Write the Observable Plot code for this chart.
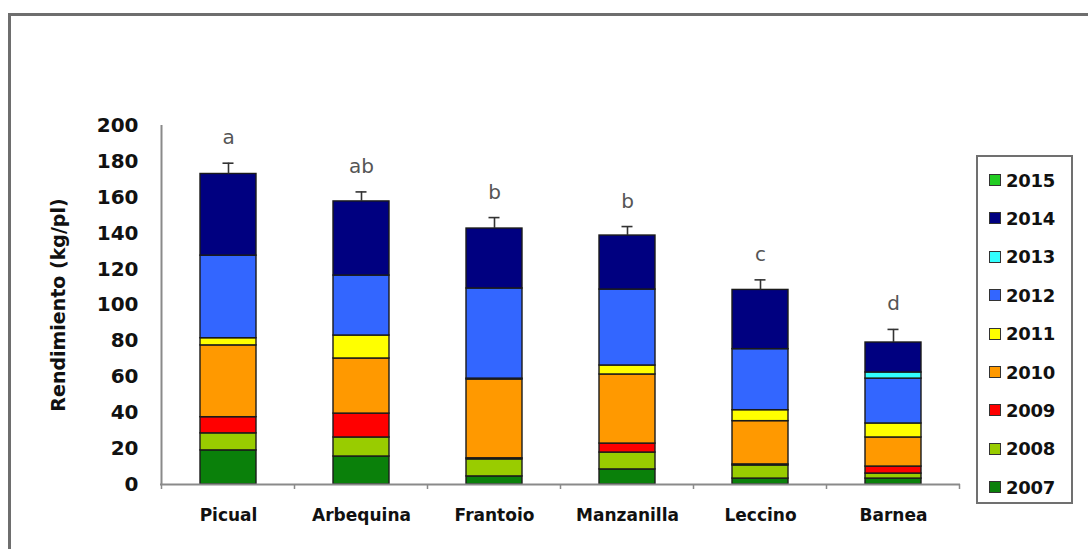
<!DOCTYPE html>
<html>
<head>
<meta charset="utf-8">
<script src="https://cdn.jsdelivr.net/npm/d3@7"></script>
<script src="https://cdn.jsdelivr.net/npm/@observablehq/plot@0.6"></script>
<style>
  html, body { margin: 0; padding: 0; background: #fff; }
  #wrap { position: relative; width: 1088px; height: 549px; overflow: hidden; background: #fff; }
  #frame { position: absolute; left: 8px; top: 13px; width: 1200px; height: 700px; border-left: 3px solid #6e6e6e; border-top: 3px solid #6e6e6e; box-sizing: border-box; }
  #chart { position: absolute; left: 0; top: 0; }
  #legend { position: absolute; left: 976px; top: 155px; width: 97px; height: 349px; border: 2px solid #707070; box-sizing: border-box; background: #fff; }
  .item { position: absolute; left: 11px; height: 20px; display: flex; align-items: center; font-family: "DejaVu Sans", sans-serif; font-weight: bold; font-size: 18px; color: #111; letter-spacing: -0.3px; }
  .sw { width: 10px; height: 10px; border: 1px solid #333; margin-right: 5px; }
</style>
</head>
<body>
<div id="wrap">
  <div id="frame"></div>
  <div id="chart"></div>
  <div id="legend"></div>
</div>
<script>
// Categories (varieties)
const varieties = ["Picual", "Arbequina", "Frantoio", "Manzanilla", "Leccino", "Barnea"];
// Years (series)
const years = ["2007", "2008", "2009", "2010", "2011", "2012", "2013", "2014", "2015"];
const yearColors = ["#0a800a", "#99cc00", "#ff0000", "#ff9900", "#ffff00", "#3366ff", "#33ffff", "#000080", "#22cc22"];

// Yield per year (kg/pl), one value per variety in the order above
const y2007 = [19.0, 15.6, 4.5, 8.4, 3.3, 3.3];
const y2008 = [9.5, 10.6, 9.5, 9.4, 7.3, 2.8];
const y2009 = [9.0, 13.3, 0.6, 5.0, 0.6, 3.9];
const y2010 = [40.0, 30.7, 43.9, 38.5, 24.1, 16.2];
const y2011 = [4.0, 12.8, 0.5, 5.0, 6.1, 7.8];
const y2012 = [46.0, 33.4, 50.2, 42.3, 34.0, 25.0];
const y2013 = [0, 0, 0, 0, 0, 3.4];
const y2014 = [45.5, 41.3, 33.4, 30.1, 33.0, 16.7];
const y2015 = [0, 0, 0, 0, 0, 0];
const series = [y2007, y2008, y2009, y2010, y2011, y2012, y2013, y2014, y2015];

// Upper error bar values and significance letters
const errTop = [179, 163, 148.7, 143.7, 114, 86.4];
const letters = ["a", "ab", "b", "b", "c", "d"];

// Y tick labels
const yTicks = [0, 20, 40, 60, 80, 100, 120, 140, 160, 180, 200];

// Build tidy table
const rows = [];
years.forEach((yr, j) => {
  varieties.forEach((v, i) => {
    const val = series[j][i];
    if (val > 0) rows.push({variety: v, year: yr, value: val});
  });
});
const totals = varieties.map((v, i) => ({
  variety: v,
  total: series.reduce((s, arr) => s + arr[i], 0),
  err: errTop[i],
  letter: letters[i]
}));

const chart = Plot.plot({
  width: 1088,
  height: 549,
  marginLeft: 160,
  marginRight: 128,
  marginTop: 125,
  marginBottom: 65,
  style: {background: "transparent", overflow: "visible"},
  x: {domain: varieties, paddingInner: 0.58, paddingOuter: 0.29, label: null},
  y: {domain: [0, 200], label: null},
  color: {domain: years, range: yearColors},
  marks: [
    Plot.axisY({
      ticks: yTicks, tickSize: 0, tickPadding: 22, label: null,
      fontFamily: "DejaVu Sans", fontWeight: "bold", fontSize: 20, fill: "#111"
    }),
    Plot.axisX({
      tickSize: 0, tickPadding: 24, label: null,
      fontFamily: "DejaVu Sans", fontWeight: "bold", fontSize: 17, fill: "#111"
    }),
    Plot.text(["Rendimiento (kg/pl)"], {
      frameAnchor: "left", textAnchor: "middle", dx: -102, rotate: -90, text: d => d,
      fontFamily: "DejaVu Sans", fontWeight: "bold", fontSize: 19, fill: "#111"
    }),
    Plot.barY(rows, {
      x: "variety", y: "value", fill: "year", stroke: "#1a1a1a", strokeWidth: 1.4
    }),
    Plot.ruleX(totals, {x: "variety", y1: "total", y2: "err", stroke: "#333", strokeWidth: 1.6}),
    Plot.tickY(totals, {x: "variety", y: "err", stroke: "#333", strokeWidth: 1.6, insetLeft: 22.5, insetRight: 22.5}),
    Plot.text(totals, {
      x: "variety", y: "err", text: "letter", lineAnchor: "bottom", dy: -19,
      fontFamily: "DejaVu Sans", fontSize: 20, fill: "#555"
    }),
    Plot.ruleY([0], {stroke: "#8a8a8a", strokeWidth: 2})
  ]
});
document.getElementById("chart").appendChild(chart);

// Axis line on the left and band-boundary ticks, positioned from Plot's own scales
const sx = chart.scale("x");
const sy = chart.scale("y");
const svg = d3.select(chart);
const y0 = sy.apply(0), yTop = sy.apply(200);
const gap = (sx.step - sx.bandwidth) / 2;
const bounds = varieties.map(v => sx.apply(v) - gap);
bounds.push(sx.apply(varieties[varieties.length - 1]) + sx.bandwidth + gap);
svg.append("line")
  .attr("x1", bounds[0]).attr("x2", bounds[0])
  .attr("y1", yTop).attr("y2", y0)
  .attr("stroke", "#8a8a8a").attr("stroke-width", 2);
svg.append("g").selectAll("line").data(bounds).join("line")
  .attr("x1", d => d).attr("x2", d => d)
  .attr("y1", y0).attr("y2", y0 + 5)
  .attr("stroke", "#8a8a8a").attr("stroke-width", 1.5);

// Legend (top to bottom: 2015 ... 2007)
const legend = document.getElementById("legend");
const legendYears = years.slice().reverse();
legendYears.forEach((yr, k) => {
  const item = document.createElement("div");
  item.className = "item";
  item.style.top = (13 + k * 38.4) + "px";
  const sw = document.createElement("span");
  sw.className = "sw";
  sw.style.background = yearColors[years.indexOf(yr)];
  item.appendChild(sw);
  item.appendChild(document.createTextNode(yr));
  legend.appendChild(item);
});
</script>
</body>
</html>
